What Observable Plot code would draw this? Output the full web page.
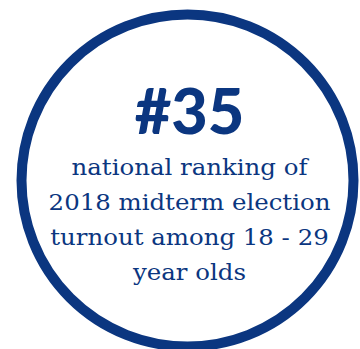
<!DOCTYPE html>
<html>
<head>
<meta charset="utf-8">
<script src="https://cdn.jsdelivr.net/npm/d3@7"></script>
<script src="https://cdn.jsdelivr.net/npm/@observablehq/plot@0.6"></script>
<style>
  html, body { margin: 0; padding: 0; background: #fff; }
  #chart { width: 360px; height: 349px; overflow: hidden; }
</style>
</head>
<body>
<div id="chart"></div>
<script>
const rank = 35;
const rankLabel = "#" + rank;
const descriptionLines = [
  "national ranking of",
  "2018 midterm election",
  "turnout among 18 - 29",
  "year olds"
];

const navy = "#0b3680";
const W = 360, H = 349;
const cx = 187, cy = 180;
const stretch = 1.11;

const lineRows = descriptionLines.map((t, i) => ({text: t, i}));

const chart = Plot.plot({
  width: W,
  height: H,
  margin: 0,
  x: {domain: [0, W], axis: null},
  y: {domain: [H, 0], axis: null},
  r: {type: "identity"},
  marks: [
    Plot.dot([0], {x: () => cx, y: () => cy, r: 166, stroke: navy, strokeWidth: 10, fill: "white"}),
    Plot.text([rankLabel], {
      x: () => 189, y: () => 133, text: d => d,
      fill: navy, fontSize: 63, fontWeight: 900,
      fontFamily: "Lato, 'Open Sans', sans-serif",
      lineAnchor: "bottom", textAnchor: "middle"
    }),
    Plot.text(lineRows, {
      x: () => 189, y: d => 174 + d.i * 35, text: "text",
      fill: navy, fontSize: 22,
      fontFamily: "'DejaVu Serif', serif",
      lineAnchor: "bottom", textAnchor: "middle",
      className: "desc"
    })
  ]
});
document.getElementById("chart").appendChild(chart);
d3.select(chart).selectAll("g.desc text").each(function() {
  const len = this.getComputedTextLength();
  this.setAttribute("textLength", len * stretch);
  this.setAttribute("lengthAdjust", "spacingAndGlyphs");
});
</script>
</body>
</html>
